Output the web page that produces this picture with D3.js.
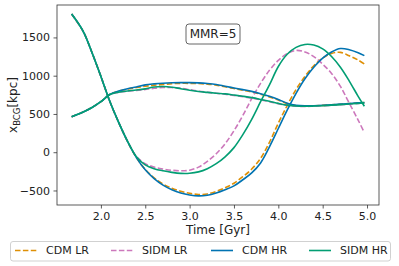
<!DOCTYPE html>
<html>
<head>
<meta charset="utf-8">
<script src="https://cdn.jsdelivr.net/npm/d3@7"></script>
<style>
  body { margin: 0; background: #fff; }
  text { font-family: "DejaVu Sans", sans-serif; }
</style>
</head>
<body>
<script>
// time grid [Gyr]
const time = [1.67, 1.8, 1.9, 2.0, 2.1, 2.2, 2.3, 2.4, 2.5, 2.6, 2.7, 2.8, 2.9, 3.0, 3.1, 3.2, 3.3,
  3.4, 3.5, 3.6, 3.7, 3.8, 3.9, 4.0, 4.1, 4.2, 4.3, 4.4, 4.5, 4.6, 4.7, 4.8, 4.9, 4.97];

// BCG 1 (starts at large x)
const cdmLR1 = [1805, 1580, 1300, 990, 665, 390, 140, -70, -225, -335, -415, -472, -510, -537, -552, -545, -512,
  -465, -405, -320, -220, -80, 130, 380, 610, 820, 990, 1130, 1230, 1290, 1305, 1260, 1205, 1154];
const sidmLR1 = [1805, 1580, 1300, 990, 665, 390, 145, -55, -150, -195, -220, -236, -243, -235, -195, -120, -20,
  110, 280, 480, 700, 900, 1070, 1200, 1290, 1330, 1310, 1250, 1150, 1030, 860, 640, 420, 255];
const cdmHR1 = [1805, 1580, 1300, 990, 665, 390, 140, -70, -230, -345, -430, -490, -532, -558, -571, -562, -532,
  -490, -440, -360, -270, -140, 70, 310, 550, 770, 960, 1110, 1230, 1310, 1355, 1340, 1300, 1262];
const sidmHR1 = [1805, 1580, 1300, 990, 665, 390, 145, -60, -165, -215, -243, -263, -276, -275, -257, -215, -150,
  -60, 60, 230, 430, 660, 880, 1120, 1280, 1370, 1408, 1400, 1350, 1250, 1110, 930, 730, 600];

// BCG 2 (starts at small x)
const cdmLR2 = [462, 525, 585, 660, 755, 797, 825, 845, 862, 875, 885, 895, 900, 900, 897, 890, 877,
  855, 833, 810, 787, 758, 723, 683, 636, 610, 603, 607, 612, 619, 627, 635, 644, 650];
const sidmLR2 = [462, 525, 585, 660, 755, 783, 797, 807, 820, 835, 845, 845, 835, 817, 798, 783, 770,
  757, 742, 726, 708, 686, 660, 634, 612, 601, 598, 602, 607, 614, 621, 629, 637, 644];
const cdmHR2 = [462, 525, 585, 660, 755, 800, 830, 852, 880, 893, 902, 907, 909, 909, 906, 898, 885,
  862, 840, 818, 795, 765, 730, 690, 640, 612, 605, 608, 613, 620, 628, 636, 645, 650];
const sidmHR2 = [462, 525, 585, 660, 755, 785, 800, 812, 828, 852, 858, 850, 830, 810, 793, 782, 771,
  762, 747, 731, 713, 690, 665, 638, 615, 603, 600, 603, 608, 615, 622, 630, 638, 645];

const labels = ["CDM LR", "SIDM LR", "CDM HR", "SIDM HR"];
const colors = ["#de8f05", "#cc78bc", "#0173b2", "#029e73"];
const dashed = [true, true, false, false];
const curves = [[cdmLR1, cdmLR2], [sidmLR1, sidmLR2], [cdmHR1, cdmHR2], [sidmHR1, sidmHR2]];
const xTicks = [2.0, 2.5, 3.0, 3.5, 4.0, 4.5, 5.0];
const yTicks = [-500, 0, 500, 1000, 1500];

const W = 399, H = 266;
const margin = {top: 5, right: 20, bottom: 61, left: 57};
const width = W - margin.left - margin.right,
      height = H - margin.top - margin.bottom;

const svg = d3.select("body").append("svg")
  .attr("width", W).attr("height", H);

const g = svg.append("g")
  .attr("transform", "translate(" + margin.left + "," + margin.top + ")");

// matplotlib-like 5% padding
const tMin = d3.min(time), tMax = d3.max(time);
const allY = curves.flat(2);
const yMin = d3.min(allY), yMax = d3.max(allY);
const x = d3.scaleLinear()
  .domain([tMin - 0.05 * (tMax - tMin), tMax + 0.05 * (tMax - tMin)])
  .range([0, width]);
const y = d3.scaleLinear()
  .domain([yMin - 0.05 * (yMax - yMin), yMax + 0.05 * (yMax - yMin)])
  .range([height, 0]);

const line = d3.line()
  .x(d => x(d[0]))
  .y(d => y(d[1]))
  .curve(d3.curveCatmullRom.alpha(0.5));

curves.forEach((pair, i) => {
  pair.forEach(vals => {
    g.append("path")
      .datum(time.map((t, k) => [t, vals[k]]))
      .attr("d", line)
      .attr("fill", "none")
      .attr("stroke", colors[i])
      .attr("stroke-width", 1.6)
      .attr("stroke-dasharray", dashed[i] ? "5.5,2.4" : null);
  });
});

// axes
const xAxis = g.append("g")
  .attr("transform", "translate(0," + height + ")")
  .call(d3.axisBottom(x).tickValues(xTicks).tickFormat(d3.format(".1f")).tickSize(3.5).tickPadding(3.5));
const yAxis = g.append("g")
  .call(d3.axisLeft(y).tickValues(yTicks).tickFormat(d => d < 0 ? "\u2212" + Math.abs(d) : d).tickSize(3.5).tickPadding(3.5));

[xAxis, yAxis].forEach(a => {
  a.selectAll("text").attr("font-size", "11px").attr("fill", "#222")
    .attr("font-family", "DejaVu Sans");
  a.selectAll("line").attr("stroke", "#333").attr("stroke-width", 0.8);
  a.select(".domain").remove();
});

// frame
g.append("rect")
  .attr("x", 0).attr("y", 0)
  .attr("width", width).attr("height", height)
  .attr("fill", "none")
  .attr("stroke", "#333")
  .attr("stroke-width", 0.8);

// axis labels
svg.append("text")
  .attr("x", margin.left + width / 2)
  .attr("y", 234)
  .attr("text-anchor", "middle")
  .attr("font-size", "12px")
  .attr("fill", "#222")
  .text("Time [Gyr]");

const yl = svg.append("text")
  .attr("transform", "translate(17," + (margin.top + height / 2) + ") rotate(-90)")
  .attr("text-anchor", "middle")
  .attr("font-size", "12px")
  .attr("fill", "#222");
yl.append("tspan").text("x");
yl.append("tspan").attr("font-size", "8.5px").attr("dy", 3).text("BCG");
yl.append("tspan").attr("dy", -3).text("[kpc]");

// annotation box
const ann = svg.append("g").attr("transform", "translate(213,34)");
ann.append("rect")
  .attr("x", -27).attr("y", -10)
  .attr("width", 54).attr("height", 20)
  .attr("rx", 3)
  .attr("fill", "#fff")
  .attr("stroke", "#555")
  .attr("stroke-width", 0.9);
ann.append("text")
  .attr("text-anchor", "middle")
  .attr("dy", "0.36em")
  .attr("font-size", "12px")
  .attr("fill", "#222")
  .text("MMR=5");

// legend
const leg = svg.append("g");
leg.append("rect")
  .attr("x", 10.5).attr("y", 241.5)
  .attr("width", 380).attr("height", 19.5)
  .attr("rx", 2.5)
  .attr("fill", "#fff")
  .attr("stroke", "#ccc")
  .attr("stroke-width", 0.9);
const legX = [15, 111, 211, 309];
labels.forEach((lab, i) => {
  leg.append("line")
    .attr("x1", legX[i]).attr("x2", legX[i] + 22)
    .attr("y1", 250.5).attr("y2", 250.5)
    .attr("stroke", colors[i])
    .attr("stroke-width", 1.6)
    .attr("stroke-dasharray", dashed[i] ? "5.5,2.4" : null);
  leg.append("text")
    .attr("x", legX[i] + 31)
    .attr("y", 250.5)
    .attr("dy", "0.36em")
    .attr("font-size", "11px")
    .attr("fill", "#222")
    .text(lab);
});
</script>
</body>
</html>
